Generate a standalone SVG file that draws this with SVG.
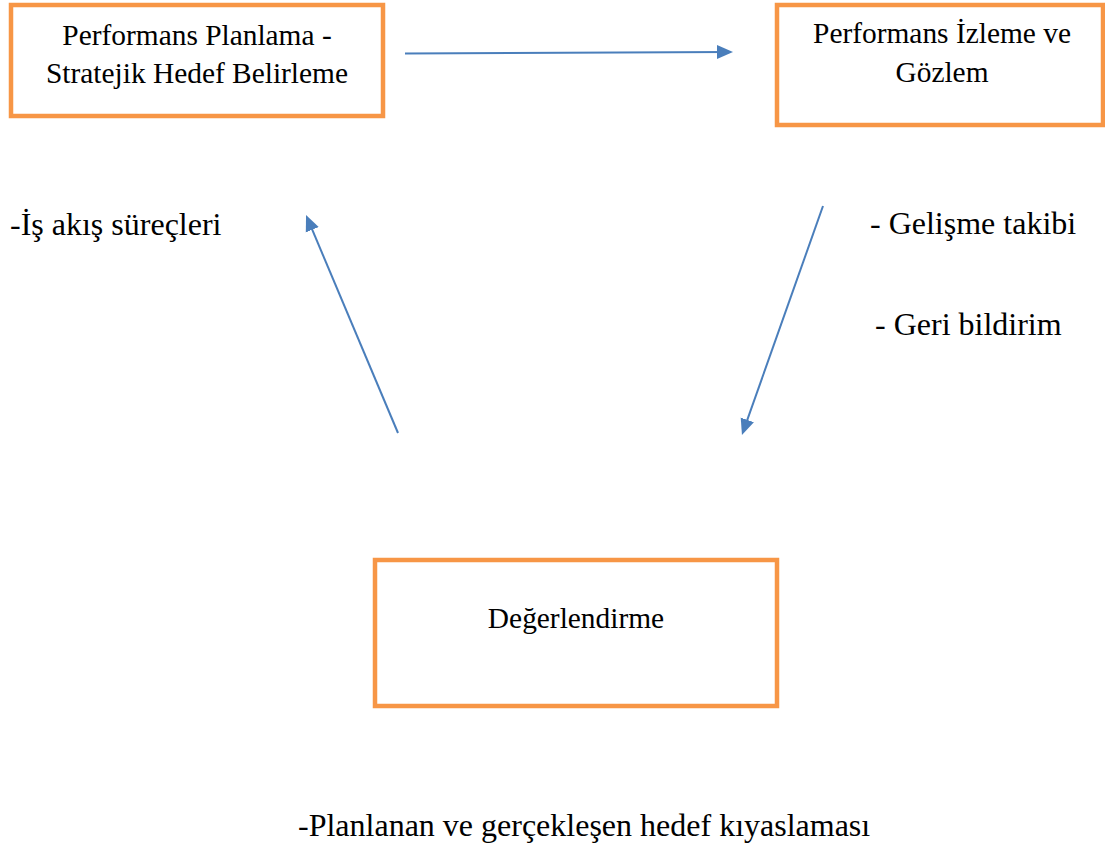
<svg xmlns="http://www.w3.org/2000/svg" width="1105" height="851" viewBox="0 0 1105 851">
<style>
.box{fill:#ffffff;stroke:#f79646;stroke-width:4.5}
.t{font-family:"Liberation Serif","Times New Roman",serif;font-size:29.4px;fill:#000}
.lbl{font-family:"Liberation Serif","Times New Roman",serif;font-size:32px;fill:#000}
.c{stroke:#4a7ebb;stroke-width:2;fill:none}
</style>
<defs>
<marker id="ah" markerWidth="8" markerHeight="8" refX="6" refY="4" orient="auto" markerUnits="strokeWidth">
<path d="M0,0.5 L8,4 L0,7.5 Z" fill="#4a7ebb"/>
</marker>
</defs>
<rect width="1105" height="851" fill="#ffffff"/>
<g id="node-planlama">
<rect class="box" x="11" y="5" width="372" height="111"/>
<text class="t" x="197" y="45" text-anchor="middle">Performans Planlama -</text>
<text class="t" x="197" y="83" text-anchor="middle">Stratejik Hedef Belirleme</text>
</g>
<g id="node-izleme">
<rect class="box" x="777" y="5" width="326" height="120"/>
<text class="t" x="942" y="43" text-anchor="middle">Performans İzleme ve</text>
<text class="t" x="942" y="82" text-anchor="middle">Gözlem</text>
</g>
<g id="node-degerlendirme">
<rect class="box" x="375" y="560" width="402" height="146"/>
<text class="t" x="576" y="628" text-anchor="middle">Değerlendirme</text>
</g>
<g id="connectors">
<line class="c" x1="405" y1="53.5" x2="729" y2="52" marker-end="url(#ah)"/>
<line class="c" x1="398" y1="433" x2="307.6" y2="218.7" marker-end="url(#ah)"/>
<line class="c" x1="823" y1="206" x2="743.3" y2="431.2" marker-end="url(#ah)"/>
</g>
<g id="labels">
<text class="lbl" x="10" y="235">-İş akış süreçleri</text>
<text class="lbl" x="870" y="234">- Gelişme takibi</text>
<text class="lbl" x="875" y="335">- Geri bildirim</text>
<text class="lbl" x="298" y="836">-Planlanan ve gerçekleşen hedef kıyaslaması</text>
</g>
</svg>
